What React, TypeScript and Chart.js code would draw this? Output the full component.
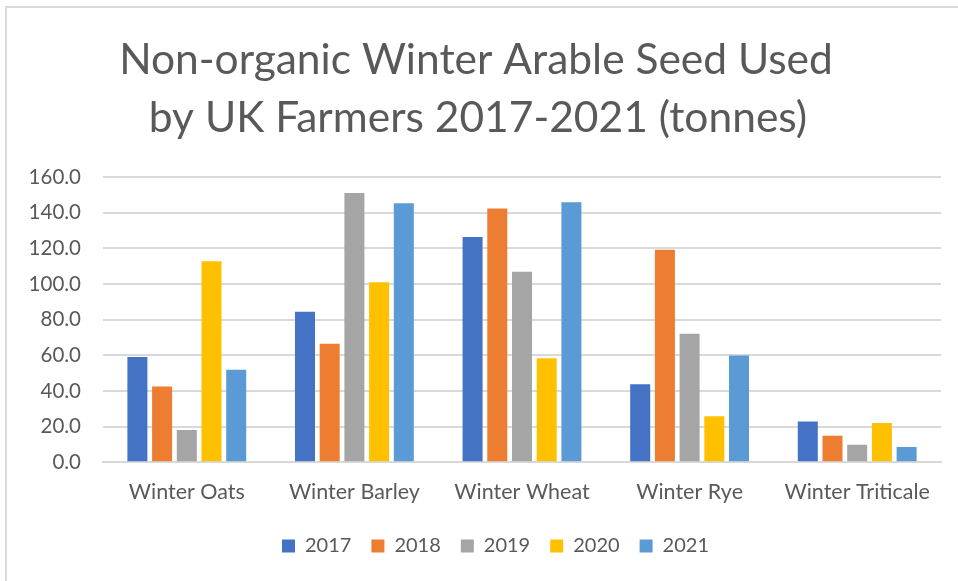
import React, { useEffect, useRef } from "react";
import { Chart, registerables } from "chart.js";

Chart.register(...registerables);

const categories = ["Winter Oats", "Winter Barley", "Winter Wheat", "Winter Rye", "Winter Triticale"];
const years = ["2017", "2018", "2019", "2020", "2021"];
const values2017 = [59.0, 84.4, 126.3, 43.8, 22.9];
const values2018 = [42.4, 66.4, 142.3, 119.2, 14.9];
const values2019 = [18.0, 151.0, 106.8, 72.0, 9.8];
const values2020 = [112.7, 101.0, 58.3, 25.8, 22.0];
const values2021 = [51.8, 145.3, 145.9, 59.8, 8.5];
const seriesValues = [values2017, values2018, values2019, values2020, values2021];
const colors = ["#4472C4", "#ED7D31", "#A5A5A5", "#FFC000", "#5B9BD5"];
const titleLines = ["Non-organic Winter Arable Seed Used", "by UK Farmers 2017-2021 (tonnes)"];
const yTickValues = [0, 20, 40, 60, 80, 100, 120, 140, 160];

const FONT = "Lato, 'Open Sans', sans-serif";
const TEXT = "#595959";

const titlePlugin = {
  id: "customTitle",
  afterDraw(chart: any) {
    const ctx = chart.ctx;
    ctx.save();
    ctx.fillStyle = TEXT;
    ctx.font = `42.5px ${FONT}`;
    ctx.textAlign = "center";
    ctx.textBaseline = "middle";
    ctx.fillText(titleLines[0], 476, 60);
    ctx.fillText(titleLines[1], 478, 118);
    ctx.restore();
  },
};

const legendShift = {
  id: "legendShift",
  afterLayout(chart: any) {
    if (chart.legend) {
      chart.legend.left += 15;
      chart.legend.right += 15;
    }
  },
};

export default function App() {
  const ref = useRef<HTMLCanvasElement | null>(null);
  useEffect(() => {
    if (!ref.current) return;
    const chart = new Chart(ref.current, {
      type: "bar",
      data: {
        labels: categories,
        datasets: years.map((y, i) => ({
          label: y,
          data: seriesValues[i],
          backgroundColor: colors[i],
          borderWidth: 0,
          barPercentage: 0.81,
          categoryPercentage: 0.737,
        })),
      },
      options: {
        animation: false,
        responsive: false,
        maintainAspectRatio: false,
        layout: { padding: { left: 20, right: 17, top: 177, bottom: 15 } },
        plugins: {
          title: { display: false },
          tooltip: { enabled: false },
          legend: {
            position: "bottom",
            labels: {
              boxWidth: 13,
              boxHeight: 13,
              padding: 20,
              color: TEXT,
              font: { family: FONT, size: 20 },
            },
          },
        },
        scales: {
          x: {
            afterFit(scale: any) {
              scale.height = scale.height - 6;
            },
            grid: { display: false, drawTicks: false },
            border: { display: true, color: "#D9D9D9", width: 2 },
            ticks: { color: TEXT, font: { family: FONT, size: 21.5 }, padding: 17, maxRotation: 0 },
          },
          y: {
            min: 0,
            max: 160,
            afterFit(scale: any) {
              scale.width = 83;
            },
            afterBuildTicks(scale: any) {
              scale.ticks = yTickValues.map((v) => ({ value: v }));
            },
            grid: { color: "#D9D9D9", lineWidth: 2, drawTicks: false },
            border: { display: false },
            ticks: {
              color: TEXT,
              font: { family: FONT, size: 20.5 },
              padding: 22,
              callback: (v: any) => Number(v).toFixed(1),
            },
          },
        },
      },
      plugins: [titlePlugin, legendShift],
    });
    return () => chart.destroy();
  }, []);
  return (
    <div style={{ position: "absolute", left: 0, top: 0, width: 958, height: 581, background: "#fff" }}>
      <div
        style={{
          position: "absolute",
          left: 5,
          top: 6,
          right: 0,
          bottom: 0,
          borderTop: "2px solid #D9D9D9",
          borderLeft: "2px solid #D9D9D9",
        }}
      />
      <canvas ref={ref} width={958} height={581} style={{ position: "absolute", left: 0, top: 0 }} />
    </div>
  );
}
